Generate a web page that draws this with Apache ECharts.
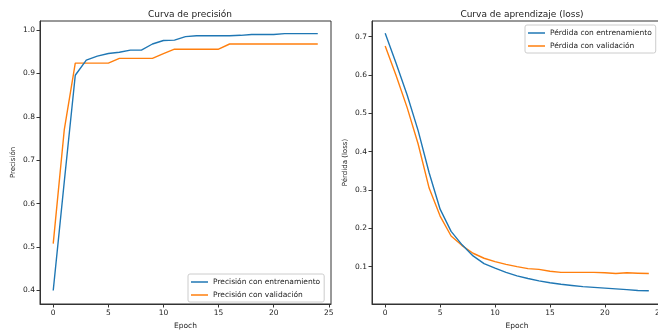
<!DOCTYPE html>
<html>
<head>
<meta charset="utf-8">
<script src="https://cdn.jsdelivr.net/npm/echarts@6/dist/echarts.min.js"></script>
<style>
  html, body { margin: 0; padding: 0; background: #fff; }
  #chart { width: 658px; height: 330px; }
</style>
</head>
<body>
<div id="chart"></div>
<script>
// epochs 0..24
const epochs = Array.from({ length: 25 }, (_, i) => i);

// accuracy curves
const accTrain = [0.400, 0.650, 0.896, 0.931, 0.940, 0.946, 0.949, 0.954, 0.954, 0.968,
  0.976, 0.977, 0.985, 0.987, 0.987, 0.987, 0.987, 0.988, 0.990, 0.990,
  0.990, 0.992, 0.992, 0.992, 0.992];
const accVal = [0.508, 0.770, 0.924, 0.924, 0.924, 0.924, 0.935, 0.935, 0.935, 0.935,
  0.946, 0.956, 0.956, 0.956, 0.956, 0.956, 0.968, 0.968, 0.968, 0.968,
  0.968, 0.968, 0.968, 0.968, 0.968];

// loss curves
const lossTrain = [0.709, 0.630, 0.548, 0.455, 0.345, 0.250, 0.192, 0.157, 0.128, 0.108,
  0.096, 0.085, 0.076, 0.069, 0.063, 0.058, 0.054, 0.051, 0.048, 0.046,
  0.044, 0.042, 0.040, 0.038, 0.037];
const lossVal = [0.676, 0.598, 0.515, 0.420, 0.305, 0.232, 0.180, 0.155, 0.135, 0.122,
  0.113, 0.106, 0.100, 0.095, 0.093, 0.088, 0.085, 0.085, 0.085, 0.085,
  0.084, 0.082, 0.084, 0.083, 0.082];

const xTicks = [0, 5, 10, 15, 20, 25];
const accTicks = [0.4, 0.5, 0.6, 0.7, 0.8, 0.9, 1.0];
const lossTicks = [0.1, 0.2, 0.3, 0.4, 0.5, 0.6, 0.7];

const FONT = 'DejaVu Sans';
const BLUE = '#1f77b4';
const ORANGE = '#ff7f0e';
const AXIS = '#333';

function pairs(ys) {
  return epochs.map((x, i) => [x, ys[i]]);
}

function xAxisFor(gridIndex) {
  return {
    type: 'value', gridIndex: gridIndex,
    min: -1.2, max: 25.2,
    name: 'Epoch', nameLocation: 'middle', nameGap: 15,
    nameTextStyle: { fontFamily: FONT, fontSize: 7.5, color: '#222' },
    axisLine: { show: true, onZero: false, lineStyle: { color: AXIS, width: 1 } },
    axisTick: { show: true, length: 3.5, customValues: xTicks, lineStyle: { color: AXIS } },
    axisLabel: { customValues: xTicks, margin: 5, fontFamily: FONT, fontSize: 7.5, color: '#222' },
    splitLine: { show: false }
  };
}

function yAxisFor(gridIndex, min, max, ticks, name) {
  return {
    type: 'value', gridIndex: gridIndex,
    min: min, max: max,
    name: name, nameLocation: 'middle', nameGap: 23,
    nameTextStyle: { fontFamily: FONT, fontSize: 7, color: '#222' },
    axisLine: { show: true, onZero: false, lineStyle: { color: AXIS, width: 1 } },
    axisTick: { show: true, length: 3.5, customValues: ticks, lineStyle: { color: AXIS } },
    axisLabel: {
      customValues: ticks, margin: 5, fontFamily: FONT, fontSize: 7.5, color: '#222',
      formatter: v => v.toFixed(1)
    },
    splitLine: { show: false }
  };
}

function lineSeries(name, data, color, idx) {
  return {
    name: name, type: 'line', xAxisIndex: idx, yAxisIndex: idx,
    data: pairs(data), symbol: 'none', smooth: false,
    lineStyle: { color: color, width: 1.4 },
    itemStyle: { color: color },
    z: color === BLUE ? 3 : 2
  };
}

const legendBase = {
  orient: 'vertical', icon: 'rect', itemWidth: 17, itemHeight: 1.5, itemGap: 5,
  backgroundColor: 'rgba(255,255,255,0.8)', borderColor: '#ccc', borderWidth: 1,
  borderRadius: 2, padding: [4, 4, 3, 3],
  textStyle: { fontFamily: FONT, fontSize: 7.5, color: '#222' }
};

const option = {
  animation: false,
  title: [
    { text: 'Curva de precisión', left: 185, top: 5, textAlign: 'center',
      textStyle: { fontFamily: FONT, fontSize: 9, fontWeight: 'normal', color: '#222' } },
    { text: 'Curva de aprendizaje (loss)', left: 517, top: 5, textAlign: 'center',
      textStyle: { fontFamily: FONT, fontSize: 9, fontWeight: 'normal', color: '#222' } }
  ],
  legend: [
    Object.assign({}, legendBase, {
      data: ['Precisión con entrenamiento', 'Precisión con validación'],
      left: 188, top: 274
    }),
    Object.assign({}, legendBase, {
      data: ['Pérdida con entrenamiento', 'Pérdida con validación'],
      left: 525, top: 25
    })
  ],
  grid: [
    { left: 40, top: 21, width: 291, height: 283, show: true, borderColor: AXIS, borderWidth: 1,
      outerBoundsMode: 'none' },
    { left: 372, top: 21, width: 290, height: 283, show: true, borderColor: AXIS, borderWidth: 1,
      outerBoundsMode: 'none' }
  ],
  xAxis: [xAxisFor(0), xAxisFor(1)],
  yAxis: [
    yAxisFor(0, 0.369, 1.021, accTicks, 'Precisión'),
    yAxisFor(1, 0.0026, 0.741, lossTicks, 'Pérdida (loss)')
  ],
  series: [
    lineSeries('Precisión con entrenamiento', accTrain, BLUE, 0),
    lineSeries('Precisión con validación', accVal, ORANGE, 0),
    lineSeries('Pérdida con entrenamiento', lossTrain, BLUE, 1),
    lineSeries('Pérdida con validación', lossVal, ORANGE, 1)
  ]
};

const chart = echarts.init(document.getElementById('chart'));
chart.setOption(option);
</script>
</body>
</html>
